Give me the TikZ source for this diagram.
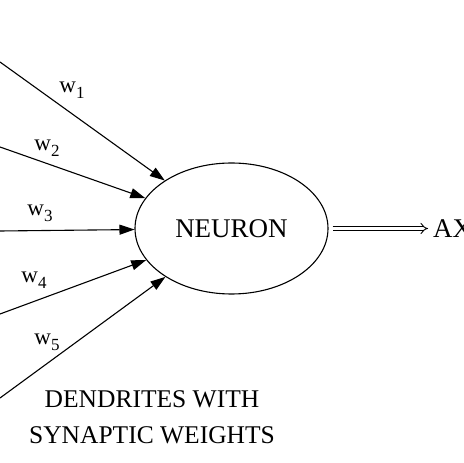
\documentclass[tikz,border=0pt]{standalone}
\usepackage{fontspec}
\setmainfont{Liberation Serif}
\usetikzlibrary{arrows.meta,shapes.geometric}

\newcommand{\wsub}[1]{w\raisebox{-6pt}{\fontsize{17}{17}\selectfont #1}}

\tikzset{
  dendrite/.style={line width=1.1pt, -{Triangle[length=15pt,width=10pt]}},
  axon/.style={double, double distance=3pt, line width=0.9pt, -{Implies[length=7pt,width=11pt]}},
  weight/.style={font=\fontsize{23}{26}\selectfont, inner sep=0pt}
}

\begin{document}
\begin{tikzpicture}[x=1pt,y=1pt]
  \useasboundingbox (0,0) rectangle (463,463);

  \node[ellipse, draw, line width=1.1pt, minimum width=193pt, minimum height=131pt,
        inner sep=0pt, font=\fontsize{27}{30}\selectfont] (neuron) at (231.5,234.5) {NEURON};

  %% dendrite start points
  \coordinate (in1) at (0,401);
  \coordinate (in2) at (0,316);
  \coordinate (in3) at (0,232);
  \coordinate (in4) at (0,149);
  \coordinate (in5) at (0,65);

  \draw[dendrite] (in1) -- (neuron); %% w1
  \draw[dendrite] (in2) -- (neuron); %% w2
  \draw[dendrite] (in3) -- (neuron); %% w3
  \draw[dendrite] (in4) -- (neuron); %% w4
  \draw[dendrite] (in5) -- (neuron); %% w5

  \node[weight] (w1) at (72,373) {\wsub{1}};
  \node[weight] (w2) at (47,315) {\wsub{2}};
  \node[weight] (w3) at (40,250) {\wsub{3}};
  \node[weight] (w4) at (34,183) {\wsub{4}};
  \node[weight] (w5) at (47,121) {\wsub{5}};

  %% output
  \node[anchor=west, inner sep=0pt, font=\fontsize{27}{30}\selectfont] (axon) at (433,234.5) {AXON};
  \draw[axon, shorten <=4pt, shorten >=5pt] (neuron.east) -- (axon.west);

  \node[align=center, inner sep=0pt, font=\fontsize{25.5}{36}\selectfont] (caption) at (152,45.5)
    {DENDRITES WITH\\SYNAPTIC WEIGHTS};
\end{tikzpicture}
\end{document}
